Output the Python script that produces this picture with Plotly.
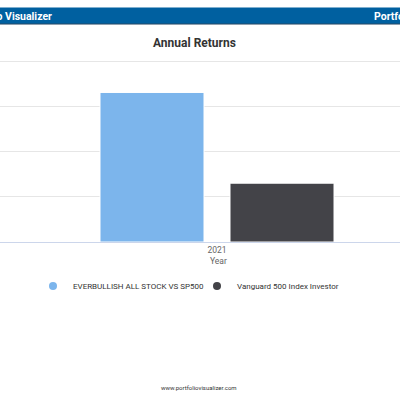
import plotly.graph_objects as go

years = ["2021"]
series_names = ["EVERBULLISH ALL STOCK VS SP500", "Vanguard 500 Index Investor"]
everbullish = [66.1]
vanguard = [26.0]
colors = ["#7cb5ec", "#434348"]

fig = go.Figure()
for name, vals, c in zip(series_names, [everbullish, vanguard], colors):
    fig.add_trace(go.Bar(x=years, y=vals, name=name, marker=dict(color=c, line=dict(color="white", width=1)),
                         showlegend=False))
legend_ids = ["legend", "legend2"]
for name, c, lg in zip(series_names, colors, legend_ids):
    fig.add_trace(go.Scatter(x=[None], y=[None], mode="markers", name=name, legend=lg,
                             marker=dict(symbol="circle", size=8, color=c)))

W, H = 400, 400
bottom = 242
px_per_unit = (242 - 61) / 80
ytop = 80.9
top = bottom - ytop * px_per_unit
ph = bottom - top

def py(p):
    return (bottom - p) / ph

leg_font = dict(size=8, color="#333333", family="Roboto, Arial, sans-serif")
fig.update_layout(
    width=W, height=H,
    margin=dict(l=0, r=0, t=top, b=H - bottom, pad=0),
    paper_bgcolor="white", plot_bgcolor="white",
    font=dict(family="Roboto, Arial, sans-serif", color="#333333"),
    barmode="group", bargap=0.35, bargroupgap=0.2,
    showlegend=True,
    legend=dict(orientation="h", x=(53 - 20) / 400, xanchor="left", y=py(286), yanchor="middle",
                font=leg_font, bgcolor="rgba(0,0,0,0)"),
    legend2=dict(orientation="h", x=(217 - 20) / 400, xanchor="left", y=py(286), yanchor="middle",
                 font=leg_font, bgcolor="rgba(0,0,0,0)"),
    xaxis=dict(type="category", range=[-217 / 400, 183 / 400], showgrid=False, showline=True,
               linecolor="#ccd6eb", linewidth=1, ticks="", tickfont=dict(size=8.5, color="#666666"),
               fixedrange=True),
    yaxis=dict(range=[0, ytop], dtick=20, showgrid=True, gridcolor="#e6e6e6", gridwidth=1,
               zeroline=False, showticklabels=False, fixedrange=True),
    shapes=[dict(type="rect", xref="paper", yref="paper", x0=-0.01, x1=1.01,
                 y0=py(24), y1=py(7.5),
                 fillcolor="#0060a0", line=dict(width=0), layer="above"),
            dict(type="line", xref="paper", yref="paper", x0=-0.01, x1=1.01,
                 y0=py(24), y1=py(24),
                 line=dict(color="#2a4a66", width=1))],
    annotations=[
        dict(text="<b>Portfolio Visualizer</b>", xref="paper", yref="paper", x=54 / 400, xanchor="right",
             y=py(16), yanchor="middle", showarrow=False,
             font=dict(size=10.5, color="white", family="Roboto, Arial, sans-serif")),
        dict(text="<b>Portfolio Visualizer</b>", xref="paper", yref="paper", x=372 / 400, xanchor="left",
             y=py(16), yanchor="middle", showarrow=False,
             font=dict(size=10.5, color="white", family="Roboto, Arial, sans-serif")),
        dict(text="<b>Annual Returns</b>", xref="paper", yref="paper", x=194 / 400, xanchor="center",
             y=py(43), yanchor="middle", showarrow=False,
             font=dict(size=12, color="#333333", family="Roboto, Arial, sans-serif")),
        dict(text="Year", xref="paper", yref="paper", x=218 / 400, xanchor="center",
             y=py(261), yanchor="middle", showarrow=False,
             font=dict(size=8.5, color="#666666", family="Roboto, Arial, sans-serif")),
        dict(text="www.portfoliovisualizer.com", xref="paper", yref="paper", x=199 / 400, xanchor="center",
             y=py(388), yanchor="middle", showarrow=False,
             font=dict(size=6, color="#333333", family="Roboto, Arial, sans-serif")),
    ],
)

fig.write_html("out.html", config={"displayModeBar": False},
               post_script="document.body.style.margin='0';document.body.style.overflow='hidden';")
